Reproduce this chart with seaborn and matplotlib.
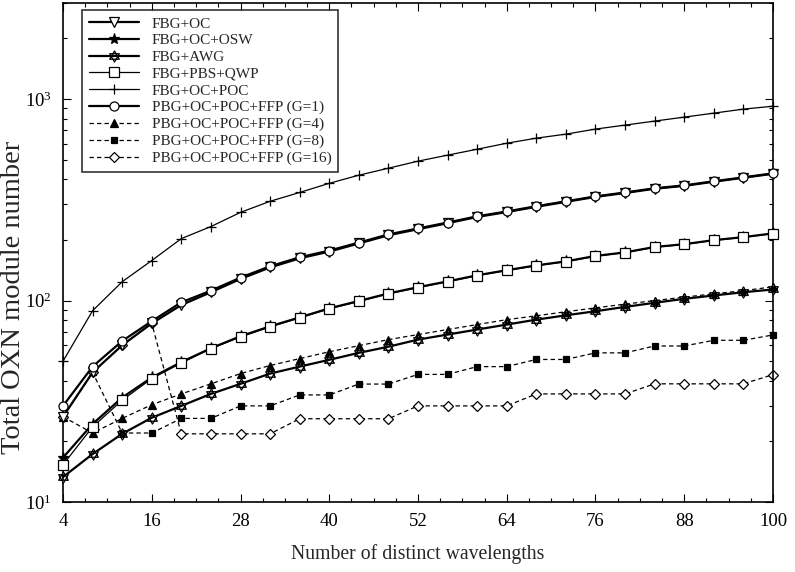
import numpy as np
import pandas as pd
import seaborn as sns
import matplotlib.pyplot as plt
from matplotlib.path import Path
from matplotlib.ticker import FixedLocator, LogLocator, NullFormatter

# Number of distinct wavelengths
wavelengths = [4, 8, 12, 16, 20, 24, 28, 32, 36, 40, 44, 48, 52,
               56, 60, 64, 68, 72, 76, 80, 84, 88, 92, 96, 100]

# Total OXN module number
fbg_oc = [26.5, 44, 60, 77, 95, 110, 128, 146, 162, 175, 192, 211, 226,
          242, 260, 275, 292, 309, 327, 342, 359, 371, 389, 407, 426]
fbg_oc_osw = [16.6, 24.4, 33, 41.5, 49.5, 58, 66.5, 74.5, 82.5, 91.5, 99.5, 108.5, 116.5,
              124.5, 133.5, 141.5, 149.5, 156.5, 166.5, 173.5, 184.5, 190.5, 199.5, 206.5, 215.5]
fbg_awg = [13.3, 17.3, 21.8, 26.2, 30, 34.4, 38.6, 43.4, 47, 50.8, 55, 59, 64,
           67.8, 71.8, 76, 80.4, 84.5, 88.5, 93, 97.5, 102, 106, 110, 113.5]
fbg_pbs_qwp = [15.3, 23.6, 32, 41, 49, 57.7, 66, 74, 82, 91, 99, 108, 116,
               124, 133, 141, 149, 156, 166, 173, 184, 190, 199, 206, 215]
fbg_oc_poc = [50, 89, 124, 158, 203, 233, 274, 311, 344, 382, 419, 454, 492,
              527, 564, 604, 640, 670, 710, 743, 778, 814, 852, 892, 922]
ffp_g1 = [30, 47, 63, 79, 98, 112, 130, 148, 164, 177, 194, 213, 228,
          244, 262, 277, 294, 311, 329, 344, 361, 373, 391, 409, 428]
ffp_g4 = [26.5, 22, 26, 30.4, 34.4, 38.6, 43.4, 47.6, 51.5, 55.7, 59.7, 64, 67.8,
          71.8, 76, 80.4, 84, 88, 92, 96, 100, 104, 108, 112, 117]
ffp_g8 = [26.5, 44, 22, 22, 26, 26, 30, 30, 34, 34, 38.5, 38.5, 43,
          43, 47, 47, 51, 51, 55, 55, 59.5, 59.5, 63.5, 63.5, 67.5]
ffp_g16 = [26.5, 44, 60, 77, 21.8, 21.8, 21.8, 21.8, 25.9, 25.9, 25.9, 25.9, 30,
           30, 30, 30, 34.4, 34.4, 34.4, 34.4, 38.6, 38.6, 38.6, 38.6, 42.9]

labels = ["FBG+OC", "FBG+OC+OSW", "FBG+AWG", "FBG+PBS+QWP", "FBG+OC+POC",
          "PBG+OC+POC+FFP (G=1)", "PBG+OC+POC+FFP (G=4)",
          "PBG+OC+POC+FFP (G=8)", "PBG+OC+POC+FFP (G=16)"]
series = [fbg_oc, fbg_oc_osw, fbg_awg, fbg_pbs_qwp, fbg_oc_poc,
          ffp_g1, ffp_g4, ffp_g8, ffp_g16]

# Open hexagram marker (two overlapping triangles)
up = np.array([[0, 1], [-0.866, -0.5], [0.866, -0.5], [0, 1]])
down = up * [1, -1]
hexagram = Path.make_compound_path(
    Path(up, [Path.MOVETO, Path.LINETO, Path.LINETO, Path.CLOSEPOLY]),
    Path(down, [Path.MOVETO, Path.LINETO, Path.LINETO, Path.CLOSEPOLY]))

# marker, face colour, marker size, line width, line style, zorder
styles = [
    ("v", "white", 6.5, 1.6, "-", 4),
    ("*", "black", 8, 1.6, "-", 3),
    (hexagram, "white", 8, 1.6, "-", 4),
    ("s", "white", 6.5, 0.9, "-", 5),
    ("+", "black", 7, 0.9, "-", 4),
    ("o", "white", 6.5, 1.6, "-", 5),
    ("^", "black", 5.5, 0.9, (0, (3.5, 2.5)), 2),
    ("s", "black", 5, 0.9, (0, (3.5, 2.5)), 2),
    ("D", "white", 5, 0.9, (0, (3.5, 2.5)), 2),
]

sns.set_style("ticks")
plt.rcParams["font.family"] = ["Liberation Serif", "DejaVu Serif"]
plt.rcParams["mathtext.fontset"] = "stix"

fig = plt.figure(figsize=(7.95, 5.72), dpi=100)
ax = fig.add_axes([63 / 795, 1 - 502 / 572, 710 / 795, 499 / 572])

for label, values, (mk, fc, ms, lw, ls, z) in zip(labels, series, styles):
    df = pd.DataFrame({"wavelengths": wavelengths, "modules": values})
    sns.lineplot(data=df, x="wavelengths", y="modules", ax=ax, label=label,
                 color="black", linewidth=lw, linestyle=ls, marker=mk,
                 markersize=ms, markerfacecolor=fc, markeredgecolor="black",
                 markeredgewidth=0.9, zorder=z, clip_on=False)

ax.set_yscale("log")
ax.set_xlim(4, 100)
ax.set_ylim(10, 3000)

ax.xaxis.set_major_locator(FixedLocator(list(range(4, 101, 12))))
ax.xaxis.set_minor_locator(FixedLocator(list(range(4, 101, 3))))
ax.yaxis.set_major_locator(LogLocator(base=10, numticks=10))
ax.yaxis.set_minor_locator(LogLocator(base=10, subs=np.arange(2, 10), numticks=20))
ax.yaxis.set_minor_formatter(NullFormatter())

ax.tick_params(which="both", direction="in", top=True, right=True,
               colors="black", labelsize=13.5, width=0.8)
ax.tick_params(which="major", length=6, pad=8)
ax.tick_params(which="minor", length=3)
for side in ax.spines.values():
    side.set_color("black")
    side.set_linewidth(1.2)

ax.set_xlabel("Number of distinct wavelengths", fontsize=14.2, labelpad=10)
ax.set_ylabel("Total OXN module number", fontsize=20.5)
ax.yaxis.set_label_coords(-0.052, 0.41)

leg = ax.legend(loc="upper left", bbox_to_anchor=(0.027, 0.986), borderaxespad=0,
                fontsize=11, handlelength=3.3, labelspacing=0.2, handletextpad=0.8,
                frameon=True, fancybox=False, edgecolor="black", borderpad=0.45)
leg.get_frame().set_linewidth(1.2)

plt.savefig("out.png", dpi=100)
